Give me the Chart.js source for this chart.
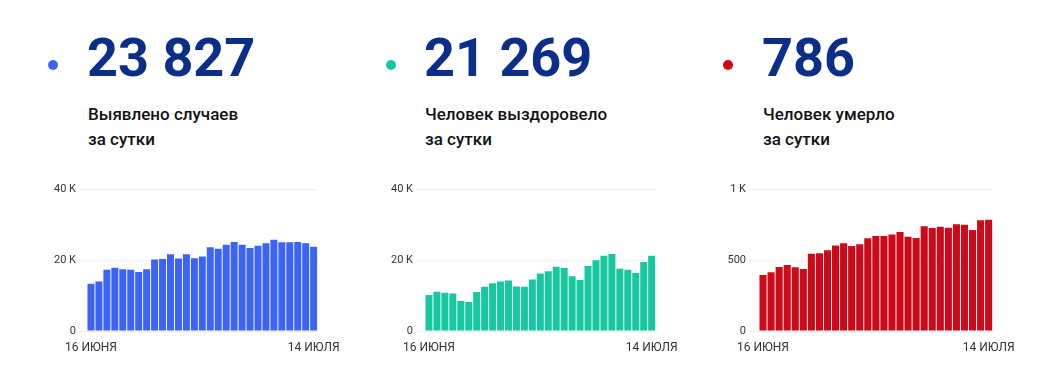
<!DOCTYPE html>
<html lang="ru">
<head>
<meta charset="utf-8">
<script src="https://cdn.jsdelivr.net/npm/chart.js@4.4.0/dist/chart.umd.min.js"></script>
<style>
  html, body { margin: 0; padding: 0; background: #fff; }
  body { width: 1056px; height: 380px; position: relative; overflow: hidden; font-family: Roboto, "Noto Sans", sans-serif; }
  .dot { position: absolute; width: 10px; height: 10px; border-radius: 50%; top: 60px; }
  .big { position: absolute; top: 26px; font-size: 54px; font-weight: 700; color: #0b2f88; line-height: 64px; }
  .sub { position: absolute; top: 102px; font-size: 17px; font-weight: 500; color: #111; line-height: 25px; }
  .box { position: absolute; top: 180px; height: 180px; }
</style>
</head>
<body>
<div class="dot" style="left:48px;background:#3d63f5"></div>
<div class="big" style="left:87px">23 827</div>
<div class="sub" style="left:88px">Выявлено случаев<br>за сутки</div>
<div class="box" style="left:40px;width:310px"><canvas id="c1"></canvas></div>

<div class="dot" style="left:386px;background:#16c7a0"></div>
<div class="big" style="left:424px">21 269</div>
<div class="sub" style="left:425px">Человек выздоровело<br>за сутки</div>
<div class="box" style="left:378px;width:310px"><canvas id="c2"></canvas></div>

<div class="dot" style="left:723px;background:#cc0a1a"></div>
<div class="big" style="left:762px">786</div>
<div class="sub" style="left:763px">Человек умерло<br>за сутки</div>
<div class="box" style="left:712px;width:313px"><canvas id="c3"></canvas></div>

<script>
const dates = ['16 июня','17 июня','18 июня','19 июня','20 июня','21 июня','22 июня','23 июня','24 июня','25 июня','26 июня','27 июня','28 июня','29 июня','30 июня','1 июля','2 июля','3 июля','4 июля','5 июля','6 июля','7 июля','8 июля','9 июля','10 июля','11 июля','12 июля','13 июля','14 июля'];
const axisLabels = ['16 ИЮНЯ', '14 ИЮЛЯ'];

const cases = [13400,14000,17300,17900,17500,17300,16700,17500,20200,20400,21700,20500,21700,20600,21100,23700,23300,24400,25200,24400,23500,24100,24800,25800,25100,25100,25200,24800,23827];
const recovered = [10200,11100,10800,10600,8500,8200,11000,12500,13500,14000,14300,12600,12500,14600,16300,16900,18200,17800,15500,14400,18400,20000,21300,21800,17600,17300,16400,19500,21269];
const deaths = [396,415,453,467,450,439,547,550,571,604,620,601,613,656,672,672,682,700,667,658,741,729,738,731,755,752,715,783,786];

const ticksK = {0: '0', 20000: '20 K', 40000: '40 K'};
const ticksD = {0: '0', 500: '500', 1000: '1 K'};

function makeChart(id, data, color, yMax, step, tickMap, yWidth, padRight, tickLen) {
  new Chart(document.getElementById(id), {
    type: 'bar',
    data: {
      labels: dates,
      datasets: [{ data: data, backgroundColor: color, borderWidth: 0, barPercentage: 0.88, categoryPercentage: 1 }]
    },
    options: {
      responsive: true,
      maintainAspectRatio: false,
      animation: false,
      layout: { padding: { top: 9, bottom: 1, left: 0, right: padRight } },
      plugins: { legend: { display: false }, tooltip: { enabled: false } },
      scales: {
        x: {
          grid: { display: false, drawTicks: false },
          border: { display: false },
          ticks: {
            autoSkip: false,
            maxRotation: 0,
            padding: 10,
            color: '#333',
            font: { family: 'Roboto', size: 12 },
            callback: function(v, i) {
              if (i === 0) return axisLabels[0];
              if (i === dates.length - 1) return axisLabels[1];
              return '';
            }
          },
          afterFit: function(s) { s.height = 28; }
        },
        y: {
          min: 0, max: yMax,
          grid: { color: '#eeeeee', tickLength: tickLen, tickColor: '#eeeeee' },
          border: { display: false },
          ticks: {
            stepSize: step,
            padding: 3,
            color: '#333',
            font: { family: 'Roboto', size: 11 },
            callback: function(v) { return tickMap[v] !== undefined ? tickMap[v] : ''; }
          },
          afterFit: function(s) { s.width = yWidth; }
        }
      }
    }
  });
}

makeChart('c1', cases, '#3d63f5', 40000, 20000, ticksK, 47, 28, 8);
makeChart('c2', recovered, '#16c7a0', 40000, 20000, ticksK, 47, 28, 9);
makeChart('c3', deaths, '#cc0a1a', 1000, 500, ticksD, 47, 28, 10);
</script>
</body>
</html>
